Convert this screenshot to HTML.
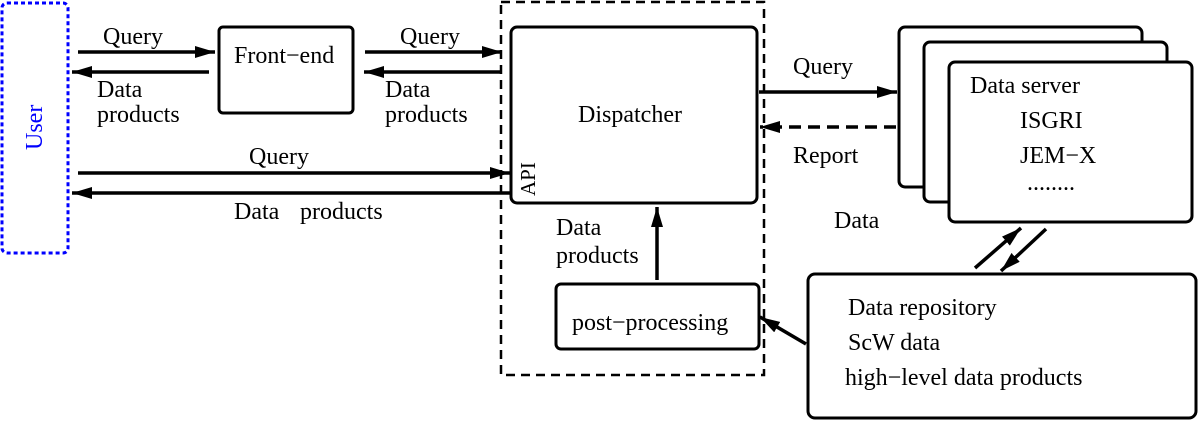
<!DOCTYPE html>
<html><head><meta charset="utf-8"><style>
html,body{margin:0;padding:0;background:#fff;}
svg{display:block;}
text{font-family:"Liberation Serif","DejaVu Serif",serif;font-size:24px;fill:#000;}
</style></head><body>
<svg width="1200" height="423" viewBox="0 0 1200 423" xmlns="http://www.w3.org/2000/svg">
<defs>
<marker id="ahb" markerWidth="20" markerHeight="12" refX="20" refY="6" orient="auto" markerUnits="userSpaceOnUse" viewBox="0 0 20 12">
<path d="M0,0 L20,6 L0,12 z" fill="#000"/>
</marker>
</defs>
<rect x="2" y="3" width="66" height="250" rx="5" fill="none" stroke="#0000ff" stroke-width="3" stroke-dasharray="4,3"/>
<text x="0" y="0" transform="translate(42 150) rotate(-90)" style="fill:#0000ff">User</text>
<rect x="219" y="27" width="134" height="86" rx="4" fill="none" stroke="#000" stroke-width="3"/>
<text x="234" y="63">Front−end</text>
<rect x="501" y="2" width="263" height="373" fill="none" stroke="#000" stroke-width="2.5" stroke-dasharray="9,6"/>
<rect x="511" y="27" width="246" height="176" rx="6" fill="none" stroke="#000" stroke-width="3"/>
<text x="578" y="122">Dispatcher</text>
<text x="0" y="0" transform="translate(535 196) rotate(-90)" style="font-size:21px">API</text>
<rect x="556" y="284" width="203" height="65" rx="5" fill="none" stroke="#000" stroke-width="3"/>
<text x="572" y="330">post−processing</text>
<rect x="899" y="27" width="243" height="160" rx="6" fill="#fff" stroke="#000" stroke-width="3"/>
<rect x="924" y="42" width="243" height="160" rx="6" fill="#fff" stroke="#000" stroke-width="3"/>
<rect x="949" y="62" width="243" height="160" rx="6" fill="#fff" stroke="#000" stroke-width="3"/>
<text x="970" y="93">Data server</text>
<text x="1020" y="128">ISGRI</text>
<text x="1020" y="163">JEM−X</text>
<text x="1027" y="190">........</text>
<rect x="808" y="274" width="388" height="144" rx="7" fill="none" stroke="#000" stroke-width="3"/>
<text x="848" y="315">Data repository</text>
<text x="848" y="350">ScW data</text>
<text x="845" y="385">high−level data products</text>
<g stroke="#000" stroke-width="3.5" fill="none">
<line x1="78" y1="52" x2="215" y2="52" marker-end="url(#ahb)"/>
<line x1="209" y1="72" x2="72" y2="72" marker-end="url(#ahb)"/>
<line x1="365" y1="52" x2="502" y2="52" marker-end="url(#ahb)"/>
<line x1="501" y1="72" x2="364" y2="72" marker-end="url(#ahb)"/>
<line x1="78" y1="173" x2="510" y2="173" marker-end="url(#ahb)"/>
<line x1="510" y1="193" x2="72" y2="193" marker-end="url(#ahb)"/>
<line x1="759" y1="92" x2="897" y2="92" marker-end="url(#ahb)"/>
<line x1="896" y1="127" x2="760" y2="127" marker-end="url(#ahb)" stroke-dasharray="12,7"/>
<line x1="657" y1="280" x2="657" y2="207" marker-end="url(#ahb)"/>
<line x1="806" y1="344" x2="760" y2="317" marker-end="url(#ahb)"/>
<line x1="975" y1="268" x2="1021" y2="228" marker-end="url(#ahb)"/>
<line x1="1046" y1="229" x2="1001" y2="271" marker-end="url(#ahb)"/>
</g>
<text x="103" y="44">Query</text>
<text x="97" y="97">Data</text>
<text x="97" y="122">products</text>
<text x="400" y="44">Query</text>
<text x="385" y="97">Data</text>
<text x="385" y="122">products</text>
<text x="249" y="164">Query</text>
<text x="234" y="219">Data</text>
<text x="300" y="219">products</text>
<text x="793" y="74">Query</text>
<text x="793" y="163">Report</text>
<text x="834" y="228">Data</text>
<text x="556" y="235">Data</text>
<text x="556" y="263">products</text>
</svg>
</body></html>
